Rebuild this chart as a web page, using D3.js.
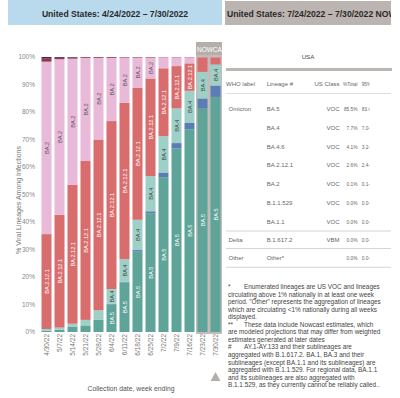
<!DOCTYPE html>
<html>
<head>
<meta charset="utf-8">
<script src="https://cdn.jsdelivr.net/npm/d3@7"></script>
<style>
  body { margin: 0; background: #fff; }
  svg { font-family: "Liberation Sans", Arial, sans-serif; display: block; }
</style>
</head>
<body>
<svg id="chart" width="400" height="398"></svg>
<script>
// week ending dates
const weeks = ["4/30/22", "5/7/22", "5/14/22", "5/21/22", "5/28/22", "6/4/22", "6/11/22",
  "6/18/22", "6/25/22", "7/2/22", "7/9/22", "7/16/22", "7/23/22", "7/30/22"];
const nowcastWeeks = ["7/23/22", "7/30/22"];

// stacked bottom -> top
const lineages = ["BA.5", "BA.4.6", "BA.4", "BA.2.12.1", "BA.2", "BA.1.1", "B.1.1.529"];
const ba5     = [0.5, 0.8, 2.0, 2.4, 4.4, 10.1, 18.0, 29.2, 43.2, 56.3, 66.7, 73.7, 81.3, 85.5];
const ba46    = [0, 0, 0, 0, 0, 0.2, 0.3, 0.6, 0.7, 1.7, 2.0, 2.3, 3.6, 4.1];
const ba4     = [0.6, 0.8, 1.0, 2.0, 3.5, 5.3, 8.2, 11.0, 12.8, 13.2, 12.6, 11.7, 9.7, 7.7];
const ba2121  = [34.5, 41.0, 50.5, 57.8, 62.1, 61.1, 56.8, 48.1, 35.5, 24.7, 15.4, 10.0, 5.3, 2.6];
const ba2     = [62.7, 56.6, 45.9, 37.5, 29.7, 23.0, 16.5, 10.9, 7.6, 4.0, 3.2, 2.2, 0.1, 0.1];
const ba11    = [1.1, 0.5, 0.4, 0.3, 0.3, 0.3, 0.2, 0.2, 0.2, 0.1, 0.1, 0.1, 0, 0];
const b11529  = [0.6, 0.3, 0.2, 0, 0, 0, 0, 0, 0, 0, 0, 0, 0, 0];
const seriesValues = [ba5, ba46, ba4, ba2121, ba2, ba11, b11529];

const yTicks = [0, 10, 20, 30, 40, 50, 60, 70, 80, 90, 100];

const colors = {
  "BA.5": "#5ea499", "BA.4.6": "#5a7db6", "BA.4": "#9fd0c7", "BA.2.12.1": "#d96d6d",
  "BA.2": "#e9b9da", "BA.1.1": "#8c3b4a", "B.1.1.529": "#5b1b4c"
};
const textColors = {
  "BA.5": "#fff", "BA.4.6": "#fff", "BA.4": "#444", "BA.2.12.1": "#fff", "BA.2": "#555"
};

// table (right panel)
const tableHeader = ["WHO label", "Lineage #", "US Class", "%Total", "95%PI"];
const tableWho     = ["Omicron", "", "", "", "", "", "", "Delta", "Other"];
const tableLineage = ["BA.5", "BA.4", "BA.4.6", "BA.2.12.1", "BA.2", "B.1.1.529", "BA.1.1", "B.1.617.2", "Other*"];
const tableClass   = ["VOC", "VOC", "VOC", "VOC", "VOC", "VOC", "VOC", "VBM", ""];
const tableTotal   = ["85.5%", "7.7%", "4.1%", "2.6%", "0.1%", "0.0%", "0.0%", "0.0%", "0.0%"];
const tablePI      = ["83.4-87.6%", "7.0-8.4%", "3.2-5.1%", "2.4-2.9%", "0.1-0.1%", "0.0-0.0%", "0.0-0.0%", "0.0-0.0%", "0.0-0.0%"];

const footnotes = [
  ["*", "Enumerated lineages are US VOC and lineages"],
  ["", "circulating above 1% nationally in at least one week"],
  ["", "period. \"Other\" represents the aggregation of lineages"],
  ["", "which are circulating <1% nationally during all weeks"],
  ["", "displayed."],
  ["**", "These data include Nowcast estimates, which"],
  ["", "are modeled projections that may differ from weighted"],
  ["", "estimates generated at later dates"],
  ["#", "AY.1-AY.133 and their sublineages are"],
  ["", "aggregated with B.1.617.2. BA.1, BA.3 and their"],
  ["", "sublineages (except BA.1.1 and its sublineages) are"],
  ["", "aggregated with B.1.1.529. For regional data, BA.1.1"],
  ["", "and its sublineages are also aggregated with"],
  ["", "B.1.1.529, as they currently cannot be reliably called.."]
];

const svg = d3.select("#chart");

// ---- header bands
svg.append("rect").attr("x", 8).attr("y", 0).attr("width", 214).attr("height", 25).attr("fill", "#b9d9ed");
svg.append("text").attr("x", 115).attr("y", 17).attr("text-anchor", "middle")
  .attr("font-size", 8.6).attr("font-weight", "bold").attr("fill", "#2a2a2a")
  .text("United States: 4/24/2022 \u2013 7/30/2022");

svg.append("clipPath").attr("id", "hdrClip")
  .append("rect").attr("x", 225).attr("y", 0).attr("width", 166).attr("height", 25);
svg.append("rect").attr("x", 225).attr("y", 1).attr("width", 166).attr("height", 24).attr("fill", "#bbb4b1");
svg.append("text").attr("clip-path", "url(#hdrClip)").attr("x", 227).attr("y", 17)
  .attr("font-size", 8.6).attr("font-weight", "bold").attr("fill", "#2a2a2a")
  .text("United States: 7/24/2022 \u2013 7/30/2022 NOWCAST");

// ---- stacked bar chart
const x = d3.scaleBand().domain(weeks).range([40, 222]).paddingInner(0.23).paddingOuter(0.115);
const y = d3.scaleLinear().domain([0, 100]).range([332, 57]);

const rows = weeks.map((w, i) => {
  const r = { week: w };
  lineages.forEach((l, j) => { r[l] = seriesValues[j][i]; });
  return r;
});
const stacked = d3.stack().keys(lineages)(rows);

// nowcast background + label
const ncX0 = x(nowcastWeeks[0]) - 1.5;
const ncX1 = x(nowcastWeeks[nowcastWeeks.length - 1]) + x.bandwidth() + 1.5;
svg.append("rect").attr("x", ncX0).attr("y", 55).attr("width", ncX1 - ncX0).attr("height", 279)
  .attr("fill", "#c3bcb9");
svg.append("clipPath").attr("id", "ncClip")
  .append("rect").attr("x", ncX0).attr("y", 42).attr("width", ncX1 - ncX0).attr("height", 13);
svg.append("rect").attr("x", ncX0).attr("y", 42).attr("width", ncX1 - ncX0).attr("height", 13)
  .attr("fill", "#b5aeab");
svg.append("text").attr("clip-path", "url(#ncClip)").attr("x", ncX0 + 1).attr("y", 51.5)
  .attr("font-size", 6.5).attr("fill", "#fff").text("NOWCAST");

const groups = svg.append("g").selectAll("g")
  .data(stacked).join("g")
  .attr("fill", d => colors[d.key]);

groups.selectAll("rect")
  .data(d => d.map(s => ({ key: d.key, s })))
  .join("rect")
  .attr("x", d => x(d.s.data.week))
  .attr("y", d => y(d.s[1]))
  .attr("width", x.bandwidth())
  .attr("height", d => Math.max(0, y(d.s[0]) - y(d.s[1])));

// in-bar labels where they fit
const labelG = svg.append("g").attr("font-size", 5.6);
stacked.forEach(layer => {
  if (!textColors[layer.key]) return;
  layer.forEach(s => {
    const h = y(s[0]) - y(s[1]);
    if (h < 8) return;
    const cx = x(s.data.week) + x.bandwidth() / 2;
    const cy = (y(s[0]) + y(s[1])) / 2;
    const t = labelG.append("text")
      .attr("transform", `translate(${cx + 2},${cy}) rotate(-90)`)
      .attr("text-anchor", "middle")
      .attr("fill", textColors[layer.key])
      .text(layer.key);
    if (t.node().getComputedTextLength() + 2 > h) t.remove();
  });
});

// y axis labels (no line)
svg.append("g").selectAll("text")
  .data(yTicks).join("text")
  .attr("x", 35).attr("y", d => y(d) + 2.3)
  .attr("text-anchor", "end").attr("font-size", 6.5).attr("fill", "#888")
  .text(d => d + "%");

svg.append("text")
  .attr("transform", "translate(21,200) rotate(-90)")
  .attr("text-anchor", "middle").attr("font-size", 7).attr("fill", "#777")
  .text("% Viral Lineages Among Infections");

// x axis labels
svg.append("g").selectAll("text")
  .data(weeks).join("text")
  .attr("transform", d => `translate(${x(d) + x.bandwidth() / 2 + 2.3},334) rotate(-90)`)
  .attr("text-anchor", "end").attr("font-size", 6.5).attr("fill", "#777")
  .text(d => d);

svg.append("text").attr("x", 131).attr("y", 391).attr("text-anchor", "middle")
  .attr("font-size", 6.8).attr("fill", "#555").text("Collection date, week ending");

// nowcast marker triangle
const tx = x(nowcastWeeks[1]) + x.bandwidth() / 2;
svg.append("path").attr("d", `M${tx - 5},381 L${tx + 5},381 L${tx},372 Z`).attr("fill", "#b5aeab");

// ---- table
const tbl = svg.append("g").attr("fill", "#666");
tbl.append("text").attr("x", 308).attr("y", 59).attr("text-anchor", "middle")
  .attr("font-size", 6.2).attr("fill", "#444").text("USA");
tbl.append("rect").attr("x", 226).attr("y", 68).attr("width", 166).attr("height", 3).attr("fill", "#bcb6b3");

svg.append("clipPath").attr("id", "piClip")
  .append("rect").attr("x", 360).attr("y", 60).attr("width", 9.5).attr("height", 220);

const colX = [226, 266.7, 339.5, 357.5, 361.7];
const colAnchor = ["start", "start", "end", "end", "start"];
const colSize = [6, 6, 6, 4.8, 4.8];
tableHeader.forEach((h, i) => {
  tbl.append("text").attr("x", colX[i]).attr("y", 85.5).attr("text-anchor", colAnchor[i])
    .attr("font-size", colSize[i])
    .attr("clip-path", i === 4 ? "url(#piClip)" : null).text(h);
});
tbl.append("line").attr("x1", 226).attr("x2", 391).attr("y1", 93.5).attr("y2", 93.5)
  .attr("stroke", "#d6d6d6").attr("stroke-width", 0.8);

const rowY = [111, 130, 148.5, 167, 186, 204.7, 223.5, 242, 260.3];
tableLineage.forEach((l, i) => {
  const cells = [tableWho[i], l, tableClass[i], tableTotal[i], tablePI[i]];
  cells.forEach((c, j) => {
    tbl.append("text").attr("x", j === 0 ? 228.5 : colX[j]).attr("y", rowY[i])
      .attr("text-anchor", colAnchor[j]).attr("font-size", colSize[j])
      .attr("clip-path", j === 4 ? "url(#piClip)" : null).text(c);
  });
});
[231, 248.5, 267.3].forEach(ly => {
  tbl.append("line").attr("x1", 226).attr("x2", 391).attr("y1", ly).attr("y2", ly)
    .attr("stroke", "#c9c9c9").attr("stroke-width", 0.8);
});

// footnotes
const fn = svg.append("g").attr("font-size", 6.4).attr("fill", "#444");
footnotes.forEach((f, i) => {
  const ly = 289 + i * 7.55;
  if (f[0]) fn.append("text").attr("x", 228).attr("y", ly).text(f[0]);
  fn.append("text").attr("x", f[0] ? 244 : 228).attr("y", ly).text(f[1]);
});
</script>
</body>
</html>
